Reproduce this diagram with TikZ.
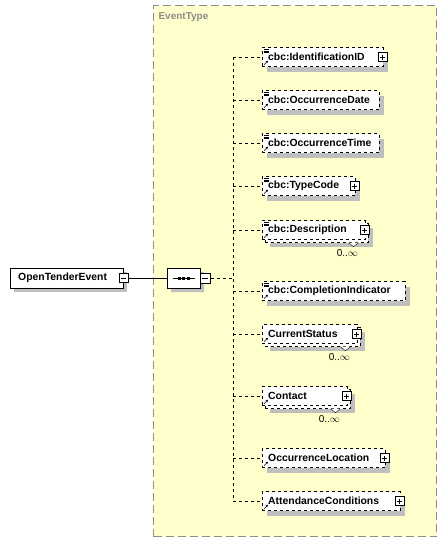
\documentclass[tikz,border=0pt]{standalone}
\usepackage{fontspec}
\setmainfont{Liberation Sans}
\usetikzlibrary{shapes.misc,shadows,calc,arrows.meta}

\definecolor{typebg}{RGB}{255,255,204}
\definecolor{typeline}{RGB}{140,140,140}

\tikzset{
  box/.style={draw,dashed,fill=white,anchor=west,minimum height=19pt,inner xsep=6pt,
              align=left,font=\bfseries\fontsize{10.4}{12}\selectfont},
  elem/.style={box,general shadow={fill=black!25,shadow xshift=5pt,shadow yshift=-5pt}},
  elemmany/.style={box,general shadow={fill=black!25,shadow xshift=8pt,shadow yshift=-7pt},
              general shadow={draw,dashed,fill=white,shadow xshift=3pt,shadow yshift=-3pt}},
  pm/.style={draw,solid,fill=white,minimum size=9pt,inner sep=0pt},
  plus/.style={pm,path picture={\draw ([xshift=2pt]path picture bounding box.west) -- ([xshift=-2pt]path picture bounding box.east)
              ([yshift=-2pt]path picture bounding box.north) -- ([yshift=2pt]path picture bounding box.south);}},
  minus/.style={pm,path picture={\draw ([xshift=2pt]path picture bounding box.west) -- ([xshift=-2pt]path picture bounding box.east);}},
  mult/.style={font=\fontsize{10}{11}\selectfont,inner sep=0pt}
}

\begin{document}
\begin{tikzpicture}[x=1pt,y=-1pt]
\useasboundingbox (0,0) rectangle (447,542);

% complex type area
\node[draw=typeline,dashed,very thick,dash pattern=on 8pt off 4pt,fill=typebg,anchor=north west,
      minimum width=283pt,minimum height=531pt] (evtype) at (153,5) {};
\node[anchor=north west,text=typeline,font=\bfseries\fontsize{10}{12}\selectfont] (evname) at (155,9) {EventType};

\node[draw,fill=white,anchor=west,minimum width=113pt,minimum height=20pt,inner xsep=8pt,
      font=\bfseries\fontsize{10.4}{12}\selectfont,text width=97pt,align=left,
      general shadow={fill=black!25,shadow xshift=4pt,shadow yshift=-4pt}] (ote) at (10,278) {OpenTenderEvent};
\node[minus] (otem) at (ote.east) {};

\node[chamfered rectangle,chamfered rectangle xsep=5pt,draw,thick,fill=white,minimum width=33pt,minimum height=20pt,
      inner sep=0pt,general shadow={fill=black!25,shadow xshift=4pt,shadow yshift=-4pt}] (seq) at (183.5,278) {};
\node[minus,minimum size=10pt] (seqm) at ($(seq.east)+(5,0)$) {};
\draw[thick] ($(seq.center)+(-11,0)$) -- ($(seq.center)+(11,0)$);
\foreach \dx in {-4.5,0,4.5}
  \fill ($(seq.center)+(\dx,0)$) +(-1.5,-1.5) rectangle +(1.5,1.5);

\coordinate (spine) at (233,278);

\node[elem,text width=109pt] (idid) at (262,57) {cbc:IdentificationID};
\node[elem,text width=105pt] (odate) at (262,100) {cbc:OccurrenceDate};
\node[elem,text width=105pt] (otime) at (262,143) {cbc:OccurrenceTime};
\node[elem,text width=81pt] (tcode) at (262,186) {cbc:TypeCode};
\node[elemmany,text width=91pt] (descr) at (262,230) {cbc:Description};
\node[elem,text width=131pt] (compl) at (262,291) {cbc:CompletionIndicator};
\node[elemmany,text width=83pt] (cstat) at (262,334) {CurrentStatus};
\node[elemmany,text width=73pt] (cont) at (262,396) {Contact};
\node[elem,text width=111pt] (oloc) at (262,458) {OccurrenceLocation};
\node[elem,text width=126pt] (attc) at (262,501) {AttendanceConditions};

\foreach \n in {idid,tcode,descr,cstat,cont,oloc,attc}
  \node[plus] at ($(\n.east)+(-1,0)$) {};

% occurrence marks
\foreach \n in {descr,cstat,cont} {
  \filldraw[fill=white,thin] ($(\n.south east)+(-17,3)$) -- ($(\n.south east)+(-12,7)$) -- ($(\n.south east)+(-7,3)$);
  \node[mult] at ($(\n.south east)+(-18,13)$) {0..$\infty$};
}

% icons
\foreach \n in {idid,odate,otime,tcode,descr,compl,cstat,cont,oloc,attc}
  \draw[-{Stealth[length=2.5pt,width=2.5pt]},semithick] ($(\n.south west)+(2,-2)$) -- ($(\n.south west)+(6,-6)$);
\foreach \n in {idid,odate,otime,tcode,descr,compl}
  \foreach \dy in {2,3.5,5}
    \draw[thin] ($(\n.north west)+(2,\dy)$) -- ($(\n.north west)+(6.5,\dy)$);

\draw (otem) -- (seq);
\draw[dashed] (seqm) -- (spine);
\draw[dashed] (spine |- idid) -- (spine |- attc);
\foreach \n in {idid,odate,otime,tcode,descr,compl,cstat,cont,oloc,attc}
  \draw[dashed] (spine |- \n) -- (\n);
\end{tikzpicture}
\end{document}
